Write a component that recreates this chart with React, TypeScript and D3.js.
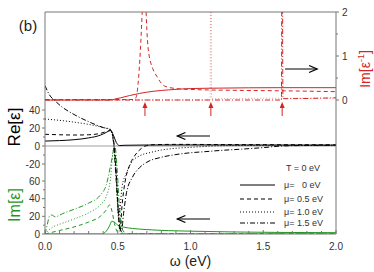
import React, { useEffect, useRef } from 'react';
import * as d3 from 'd3';

type Pt = [number, number];

// Im[-1/eps] (top panel, right axis)
const lossSolid: Pt[] = [[0, 0], [0.45, 0], [0.48, 0.02], [0.52, 0.05], [0.58, 0.1], [0.65, 0.15], [0.75, 0.2], [0.85, 0.23], [1.0, 0.26], [1.2, 0.27], [1.6, 0.28], [2.0, 0.28]];
const lossDashed: Pt[] = [[0, 0.01], [0.61, 0.01], [0.625, 0.05], [0.64, 0.38], [0.655, 1.1], [0.668, 2.0], [0.68, 3], [0.69, 2.4], [0.7, 1.6], [0.71, 1.14], [0.74, 0.72], [0.77, 0.53], [0.82, 0.32], [0.9, 0.26], [1.0, 0.24], [1.3, 0.22], [1.6, 0.21], [2, 0.19]];
const lossDotted: Pt[] = [[0, 0], [1.135, 0], [1.138, 3], [1.142, 3], [1.145, 0.03], [1.5, 0.04], [2, 0.04]];
const lossDashDot: Pt[] = [[0, 0], [1.625, 0], [1.628, 3], [1.632, 3], [1.635, 0.03], [2, 0.05]];

// Re[eps]
const reSolid: Pt[] = [[0, 5.5], [0.1, 6], [0.2, 7], [0.3, 9], [0.38, 12], [0.42, 15], [0.45, 17.5], [0.47, 12], [0.49, 4], [0.51, 0.5], [0.55, 0.8], [0.7, 1.1], [1.0, 1.2], [1.5, 1.1], [2, 1.0]];
const reDashed: Pt[] = [[0, 13], [0.1, 12.5], [0.2, 12.2], [0.3, 12.5], [0.38, 14], [0.42, 16], [0.45, 17], [0.47, 8], [0.49, -30], [0.505, -75], [0.515, -95], [0.53, -65], [0.55, -40], [0.58, -22], [0.62, -10], [0.66, -3], [0.69, 0], [0.75, 1.5], [0.9, 1.8], [1.2, 1.6], [2, 1.3]];
const reDotted: Pt[] = [[0, 30], [0.1, 28.5], [0.2, 26.5], [0.3, 24], [0.4, 20.5], [0.45, 18.5], [0.47, 6], [0.49, -35], [0.505, -80], [0.515, -70], [0.53, -45], [0.56, -30], [0.6, -17], [0.65, -11], [0.73, -7], [0.8, -4.5], [0.9, -2.5], [1.0, -1.5], [1.1, -0.5], [1.14, 0], [1.3, 0.5], [2, 0.8]];
const reDashDot: Pt[] = [[0, 67], [0.03, 57], [0.07, 50], [0.12, 43], [0.2, 35], [0.3, 27], [0.4, 20.5], [0.45, 18], [0.47, 5], [0.49, -40], [0.51, -85], [0.525, -95], [0.54, -75], [0.56, -52], [0.6, -35], [0.65, -24], [0.7, -18], [0.8, -12.5], [0.9, -9.5], [1.0, -7.5], [1.1, -6.3], [1.2, -5], [1.35, -3.5], [1.5, -1.8], [1.63, 0], [1.8, 0.6], [2, 0.8]];

// Im[eps]
const imSolid: Pt[] = [[0, 0], [0.39, 0], [0.42, 3], [0.44, 8], [0.46, 14.5], [0.48, 13], [0.5, 10], [0.55, 7.5], [0.6, 6.3], [0.7, 5], [0.85, 3.8], [1.0, 3.2], [1.3, 2.3], [1.6, 1.8], [2, 1.5]];
const imDashed: Pt[] = [[0, 0], [0.1, 4], [0.2, 8], [0.3, 13.6], [0.38, 20], [0.42, 27], [0.445, 33], [0.46, 26], [0.48, 10], [0.5, 2], [0.53, 0.3], [1, 0.2], [2, 0.2]];
const imDotted: Pt[] = [[0, 0], [0.03, 5], [0.06, 8.5], [0.1, 11], [0.2, 17], [0.3, 24], [0.38, 33], [0.42, 42], [0.45, 62], [0.47, 95], [0.485, 80], [0.5, 35], [0.515, 8], [0.54, 0.5], [2, 0.2]];
const imDashDot: Pt[] = [[0, 0], [0.015, 10], [0.03, 20], [0.045, 21.5], [0.07, 19.5], [0.12, 23], [0.2, 28], [0.3, 35], [0.38, 44], [0.42, 55], [0.46, 85], [0.48, 100], [0.495, 75], [0.51, 35], [0.53, 6], [0.56, 0.5], [2, 0.3]];

const muLabels = ['μ=   0 eV', 'μ= 0.5 eV', 'μ= 1.0 eV', 'μ= 1.5 eV'];
const dashes = ['', '4,3', '1,2', '5,2,1,2'];
const xTicks = [0, 0.5, 1, 1.5, 2];
const reTicks = [-20, 0, 20, 40];
const imTicks = [0, 20, 40, 60];
const lossTicks = [0, 1, 2];
const plasmons = [0.687, 1.14, 1.63];

const RED = '#d42424';
const GREEN = '#1f971f';
const AXIS = '#777';
const FONT = 'Liberation Sans, Arial, sans-serif';

function Chart() {
  const ref = useRef<SVGSVGElement>(null);

  useEffect(() => {
    const svg = d3.select(ref.current);
    svg.selectAll('*').remove();

    const L = 45, R = 336, T = 12, B = 234;
    const x = d3.scaleLinear().domain([0, 2]).range([L, R]);
    const yLoss = d3.scaleLinear().domain([0, 2]).range([100, T]);
    const yRe = d3.scaleLinear().domain([0, 40]).range([146, 110]);
    const yIm = d3.scaleLinear().domain([0, 60]).range([B, 181]);

    svg.append('defs').append('clipPath').attr('id', 'plotclip')
      .append('rect').attr('x', L).attr('y', T).attr('width', R - L).attr('height', B - T);

    const plot = svg.append('g').attr('clip-path', 'url(#plotclip)');

    // zero line of Re
    plot.append('line').attr('x1', L).attr('x2', R).attr('y1', yRe(0)).attr('y2', yRe(0))
      .attr('stroke', '#888').attr('stroke-width', 0.8);

    const draw = (sets: Pt[][], yS: d3.ScaleLinear<number, number>, color: string, widths = [1, 1, 1, 1], alphas = [1, 1, 1, 1]) => {
      const line = d3.line<Pt>().x(d => x(d[0])).y(d => yS(d[1])).curve(d3.curveMonotoneX);
      sets.forEach((s, i) => {
        plot.append('path').attr('d', line(s)).attr('fill', 'none')
          .attr('stroke', color).attr('stroke-width', widths[i]).attr('stroke-opacity', alphas[i])
          .attr('stroke-dasharray', dashes[i] || null);
      });
    };

    draw([imSolid, imDashed, imDotted, imDashDot], yIm, GREEN);
    draw([reSolid, reDashed, reDotted, reDashDot], yRe, '#000');
    draw([lossSolid, lossDashed, lossDotted, lossDashDot], yLoss, RED, [1, 1, 0.8, 1], [1, 1, 0.6, 1]);

    // axes frame
    const ax = svg.append('g').attr('stroke', AXIS).attr('stroke-width', 1);
    ax.append('line').attr('x1', L).attr('x2', R).attr('y1', T).attr('y2', T);
    ax.append('line').attr('x1', L).attr('x2', R).attr('y1', B).attr('y2', B);
    ax.append('line').attr('x1', L).attr('x2', L).attr('y1', T).attr('y2', B);
    ax.append('line').attr('x1', R).attr('x2', R).attr('y1', T).attr('y2', B);

    // x ticks
    d3.range(0, 2.001, 0.1).forEach(v => {
      const major = Math.abs(v * 2 - Math.round(v * 2)) < 1e-6;
      ax.append('line').attr('x1', x(v)).attr('x2', x(v)).attr('y1', B).attr('y2', B - (major ? 4 : 3));
    });
    const txt = svg.append('g').attr('font-family', FONT).attr('fill', '#333');
    xTicks.forEach(v => {
      txt.append('text').attr('x', x(v)).attr('y', B + 16).attr('text-anchor', 'middle')
        .attr('font-size', 10).text(d3.format('.1f')(v));
    });

    // left ticks Re
    d3.range(-20, 41, 10).forEach(v => {
      ax.append('line').attr('x1', L).attr('x2', L - (v % 20 === 0 ? 3 : 2)).attr('y1', yRe(v)).attr('y2', yRe(v));
    });
    reTicks.forEach(v => {
      txt.append('text').attr('x', L - 5).attr('y', yRe(v) + 3.5).attr('text-anchor', 'end')
        .attr('font-size', 10).text(v);
    });
    // left ticks Im
    d3.range(0, 61, 10).forEach(v => {
      ax.append('line').attr('x1', L).attr('x2', L - (v % 20 === 0 ? 3 : 2)).attr('y1', yIm(v)).attr('y2', yIm(v));
    });
    imTicks.forEach(v => {
      txt.append('text').attr('x', L - 5).attr('y', yIm(v) + 3.5).attr('text-anchor', 'end')
        .attr('font-size', 10).text(v);
    });
    // right ticks loss
    d3.range(0, 2.01, 0.5).forEach(v => {
      ax.append('line').attr('x1', R).attr('x2', R + (v % 1 === 0 ? 3 : 2)).attr('y1', yLoss(v)).attr('y2', yLoss(v));
    });
    lossTicks.forEach(v => {
      txt.append('text').attr('x', R + 6).attr('y', yLoss(v) + 3.5).attr('text-anchor', 'start')
        .attr('font-size', 10).text(v);
    });

    // red up arrows at plasmon energies
    plasmons.forEach(p => {
      const g = svg.append('g').attr('stroke', RED).attr('fill', RED);
      g.append('line').attr('x1', x(p)).attr('x2', x(p)).attr('y1', 116).attr('y2', 104).attr('stroke-width', 1);
      g.append('path').attr('d', `M${x(p)},102 L${x(p) - 2.5},108 L${x(p) + 2.5},108 Z`).attr('stroke', 'none');
    });

    // black horizontal arrows
    const arrow = (x1: number, x2: number, y: number) => {
      const dir = Math.sign(x2 - x1);
      const g = svg.append('g').attr('stroke', '#000').attr('fill', 'none').attr('stroke-width', 1.1);
      g.append('line').attr('x1', x1).attr('x2', x2).attr('y1', y).attr('y2', y);
      g.append('path').attr('d', `M${x2 - dir * 8},${y - 3.5} L${x2},${y} L${x2 - dir * 8},${y + 3.5}`)
        .attr('stroke-width', 1.3);
    };
    arrow(x(1.65), x(1.87), 69);
    arrow(x(1.134), x(0.91), 136);
    arrow(x(1.134), x(0.91), 219);

    // legend
    txt.append('text').attr('x', 286).attr('y', 171).attr('font-size', 9).text('T = 0 eV');
    muLabels.forEach((m, i) => {
      const yy = [185, 199, 212, 223][i];
      svg.append('line').attr('x1', 240).attr('x2', 275).attr('y1', yy).attr('y2', yy)
        .attr('stroke', '#000').attr('stroke-width', 1).attr('stroke-dasharray', dashes[i] || null);
      txt.append('text').attr('x', 284).attr('y', yy + 3).attr('font-size', 9)
        .style('white-space', 'pre').text(m);
    });

    // axis titles
    svg.append('text').attr('x', 28).attr('y', 31).attr('text-anchor', 'middle')
      .attr('font-family', FONT).attr('font-size', 15).attr('fill', '#222').text('(b)');
    svg.append('text').attr('transform', 'translate(20,127) rotate(-90)').attr('text-anchor', 'middle')
      .attr('font-family', FONT).attr('font-size', 17).attr('fill', '#000').text('Re[ε]');
    svg.append('text').attr('transform', 'translate(20,205) rotate(-90)').attr('text-anchor', 'middle')
      .attr('font-family', FONT).attr('font-size', 16).attr('fill', GREEN).text('Im[ε]');
    const lt = svg.append('text').attr('transform', 'translate(370,69) rotate(-90)').attr('text-anchor', 'middle')
      .attr('font-family', FONT).attr('font-size', 14).attr('fill', RED);
    lt.append('tspan').text('Im[ε');
    lt.append('tspan').attr('font-size', 9).attr('dy', -6).text('-1');
    lt.append('tspan').attr('dy', 6).text(']');
    svg.append('text').attr('x', x(1)).attr('y', 266).attr('text-anchor', 'middle')
      .attr('font-family', FONT).attr('font-size', 14).attr('fill', '#222').text('ω (eV)');
  }, []);

  return <svg ref={ref} width={374} height={272} style={{ position: 'absolute', left: 0, top: 0 }}></svg>;
}

export default function App() {
  return <Chart />;
}
